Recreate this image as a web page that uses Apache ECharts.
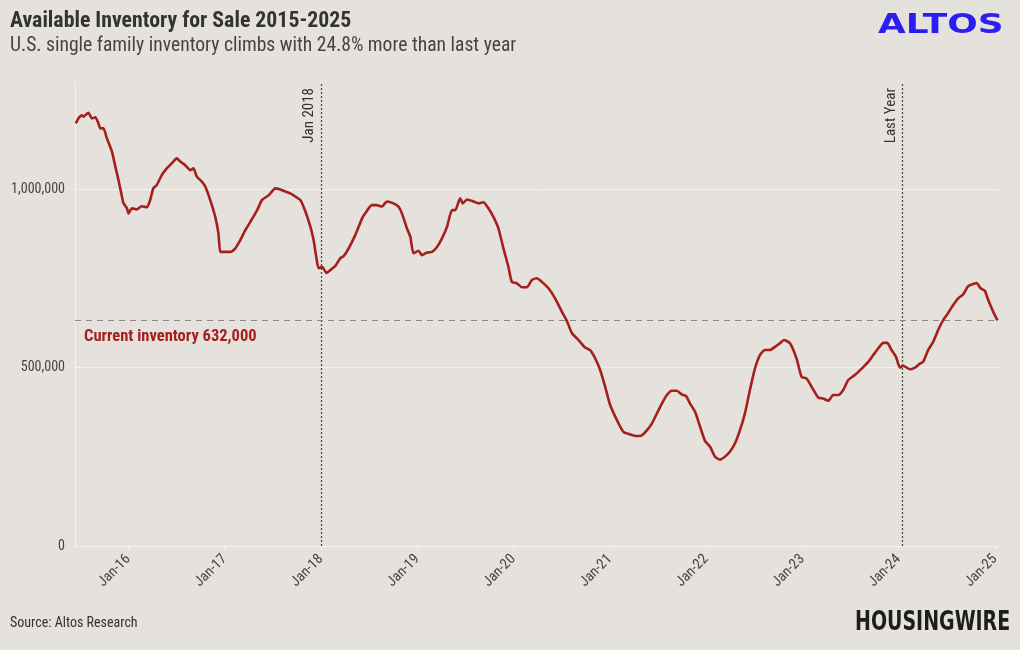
<!DOCTYPE html>
<html>
<head>
<meta charset="utf-8">
<script src="https://cdn.jsdelivr.net/npm/echarts@6/dist/echarts.min.js"></script>
<style>
html,body{margin:0;padding:0;background:#E5E2DD;}
#c{width:1020px;height:650px;}
</style>
</head>
<body>
<div id="c"></div>
<script>
const dates = [
'2015-06-16','2015-06-26','2015-07-09','2015-07-15','2015-08-03','2015-08-16','2015-08-29','2015-09-10','2015-09-17','2015-09-29',
'2015-10-12','2015-10-31','2015-11-13','2015-11-25','2015-12-08','2015-12-14','2015-12-27',
'2016-01-02','2016-01-15','2016-02-02','2016-02-21','2016-03-11','2016-03-24','2016-04-05','2016-04-18','2016-05-07','2016-05-26',
'2016-06-14','2016-07-03','2016-07-16','2016-08-04','2016-08-23','2016-09-04','2016-09-17','2016-10-06','2016-10-19','2016-11-07',
'2016-11-26','2016-12-08','2016-12-15','2016-12-27',
'2017-01-22','2017-02-10','2017-03-01','2017-03-20','2017-04-08','2017-05-04','2017-05-22','2017-06-17','2017-07-12','2017-07-31',
'2017-08-19','2017-09-07','2017-09-26','2017-10-15','2017-11-03','2017-11-22','2017-12-04','2017-12-14','2017-12-23',
'2018-01-05','2018-01-22','2018-02-09','2018-02-24','2018-03-15','2018-03-28','2018-04-16','2018-05-11','2018-06-06','2018-06-18',
'2018-07-13','2018-08-01','2018-08-20','2018-09-08','2018-10-03','2018-10-22','2018-11-04','2018-11-23','2018-12-06','2018-12-18',
'2019-01-06','2019-01-19','2019-02-07','2019-02-26','2019-03-17','2019-04-05','2019-04-24','2019-05-13','2019-05-25','2019-06-13',
'2019-06-23','2019-07-09','2019-08-03','2019-08-22','2019-09-09','2019-09-28','2019-10-17','2019-11-05','2019-11-24','2019-12-13','2019-12-26',
'2020-01-14','2020-02-02','2020-02-21','2020-03-11','2020-03-30','2020-04-18','2020-05-13','2020-06-07','2020-07-03','2020-07-22',
'2020-08-10','2020-09-04','2020-09-29','2020-10-18','2020-11-06','2020-11-25','2020-12-14',
'2021-01-02','2021-01-28','2021-02-21','2021-03-18','2021-04-13','2021-05-02','2021-05-21','2021-06-09','2021-06-28','2021-07-17',
'2021-08-05','2021-08-24','2021-09-12','2021-09-30','2021-10-17','2021-11-01','2021-11-20','2021-12-09','2021-12-28',
'2022-01-16','2022-02-04','2022-02-22','2022-03-13','2022-04-01','2022-04-20','2022-05-09','2022-05-28','2022-06-16','2022-07-05',
'2022-07-24','2022-08-12','2022-08-31','2022-09-19','2022-10-08','2022-10-23','2022-11-15','2022-12-10','2022-12-29',
'2023-01-17','2023-02-05','2023-03-02','2023-03-21','2023-04-09','2023-04-28','2023-05-17','2023-06-05','2023-06-24','2023-07-19',
'2023-08-14','2023-09-08','2023-09-27','2023-10-16','2023-11-04','2023-11-19','2023-12-05','2023-12-22',
'2024-01-06','2024-01-18','2024-02-13','2024-03-03','2024-03-22','2024-04-03','2024-04-22','2024-05-11','2024-05-30','2024-06-18',
'2024-07-07','2024-07-26','2024-08-14','2024-09-02','2024-09-21','2024-10-10','2024-10-23','2024-11-07','2024-11-23','2024-12-06',
'2024-12-25','2025-01-10'
];
const inventory = [
1184000,1198000,1207000,1203000,1214000,1198000,1201000,1184000,1170000,1170000,
1142000,1105000,1063000,1025000,979000,960000,946000,
932000,946000,943000,952000,949000,969000,1002000,1011000,1039000,1058000,
1072000,1086000,1077000,1067000,1053000,1058000,1035000,1021000,1007000,969000,
922000,876000,824000,824000,
824000,834000,857000,885000,908000,941000,969000,983000,1002000,999000,
993000,988000,979000,969000,937000,894000,857000,810000,778000,
782000,765000,775000,784000,806000,812000,834000,871000,918000,932000,
955000,955000,951000,965000,960000,951000,932000,890000,866000,820000,
827000,815000,822000,824000,838000,862000,894000,941000,941000,974000,
960000,971000,965000,960000,963000,946000,922000,890000,834000,782000,740000,
736000,725000,725000,745000,750000,740000,722000,694000,656000,630000,
596000,577000,556000,549000,526000,493000,446000,
395000,352000,320000,313000,308000,310000,324000,343000,371000,399000,
423000,435000,435000,425000,420000,399000,376000,334000,294000,
278000,250000,242000,250000,264000,287000,324000,371000,437000,497000,
535000,549000,549000,558000,568000,577000,568000,525000,474000,
469000,446000,416000,413000,407000,423000,423000,437000,465000,479000,
497000,516000,535000,554000,569000,569000,549000,530000,
500000,505000,495000,500000,511000,516000,549000,572000,605000,633000,
653000,675000,694000,705000,728000,734000,737000,722000,715000,689000,
656000,632000
];
const currentInventory = 632000;
const eventDates = ['2018-01-01','2024-01-15'];
const eventLabels = ['Jan 2018','Last Year'];
const yTicks = [0, 500000, 1000000];

const FONT = "'Roboto Condensed','Liberation Sans Narrow','DejaVu Sans Condensed',Roboto,sans-serif";
const chart = echarts.init(document.getElementById('c'));
const seriesData = dates.map((d,i)=>[d, inventory[i]]);

chart.setOption({
  backgroundColor: '#E5E2DD',
  animation: false,
  textStyle: {fontFamily: FONT},
  grid: {left: 75, right: 22, top: 82, bottom: 104, containLabel: false},
  xAxis: {
    type: 'time',
    min: '2015-06-13',
    max: '2025-01-12',
    minInterval: 365*24*3600*1000,
    maxInterval: 366*24*3600*1000,
    axisLine: {show: true, lineStyle: {color: '#F4F2EF', width: 1}},
    axisTick: {show: true, length: 4, lineStyle: {color: '#F4F2EF'}},
    splitLine: {show: false},
    axisLabel: {
      rotate: 45, fontSize: 14.5, color: '#444444', fontFamily: FONT, margin: 11,
      formatter: function(v){
        const d = new Date(v);
        if (d.getMonth() === 0 && d.getDate() === 1) return 'Jan-' + String(d.getFullYear()).slice(2);
        return '';
      }
    }
  },
  yAxis: {
    type: 'value',
    min: 0, max: 1300000, interval: 500000,
    axisLine: {show: true, lineStyle: {color: '#F4F2EF', width: 1}},
    axisTick: {show: false},
    splitLine: {show: true, showMaxLine: false, lineStyle: {color: '#F4F2EF', width: 1}},
    axisLabel: {
      fontSize: 14, color: '#444444', fontFamily: FONT, margin: 10, showMaxLabel: false,
      formatter: function(v){ return yTicks.indexOf(v) >= 0 ? v.toLocaleString('en-US') : ''; }
    }
  },
  series: [{
    type: 'line',
    data: seriesData,
    showSymbol: false,
    smooth: 0.2,
    lineStyle: {color: '#A51F1C', width: 2.6},
    itemStyle: {color: '#A51F1C'},
    z: 5,
    markLine: {
      silent: true,
      symbol: 'none',
      animation: false,
      data: [
        {xAxis: eventDates[0], name: eventLabels[0],
          lineStyle: {type: [2, 2], color: '#4a4a4a', width: 1.3},
          label: {show: true, formatter: eventLabels[0], position: 'insideEndTop', color: '#333', fontSize: 15, fontFamily: FONT, distance: [6, 4]}},
        {xAxis: eventDates[1], name: eventLabels[1],
          lineStyle: {type: [2, 2], color: '#4a4a4a', width: 1.3},
          label: {show: true, formatter: eventLabels[1], position: 'insideEndTop', color: '#333', fontSize: 15, fontFamily: FONT, distance: [6, 4]}},
        {yAxis: currentInventory,
          lineStyle: {type: [6, 5], color: '#8a8784', width: 1.2},
          label: {show: true, formatter: 'Current inventory ' + currentInventory.toLocaleString('en-US'),
            position: 'insideStartBottom', color: '#A51F1C', fontSize: 16.5, fontWeight: 'bold', fontFamily: FONT, distance: [9, 8]}}
      ]
    }
  }],
  graphic: [
    {type: 'text', left: 10, top: 11, style: {text: 'Available Inventory for Sale 2015-2025', font: "bold 21.8px " + FONT, fill: '#333333'}},
    {type: 'text', left: 10, top: 36, style: {text: 'U.S. single family inventory climbs with 24.8% more than last year', font: "19.6px " + FONT, fill: '#444444'}},
    {type: 'text', left: 10, top: 616, style: {text: 'Source: Altos Research', font: "14px " + FONT, fill: '#333333'}},
    {type: 'text', x: 878, y: 13, scaleX: 1.38, style: {text: 'ALTOS', font: "bold 26px 'DejaVu Sans', sans-serif", fill: '#2A1FF0'}},
    {type: 'text', x: 855, y: 610, scaleX: 0.73, style: {text: 'HOUSINGWIRE', font: "bold 26px 'DejaVu Sans', sans-serif", fill: '#1d1d1d'}}
  ]
});
</script>
</body>
</html>
